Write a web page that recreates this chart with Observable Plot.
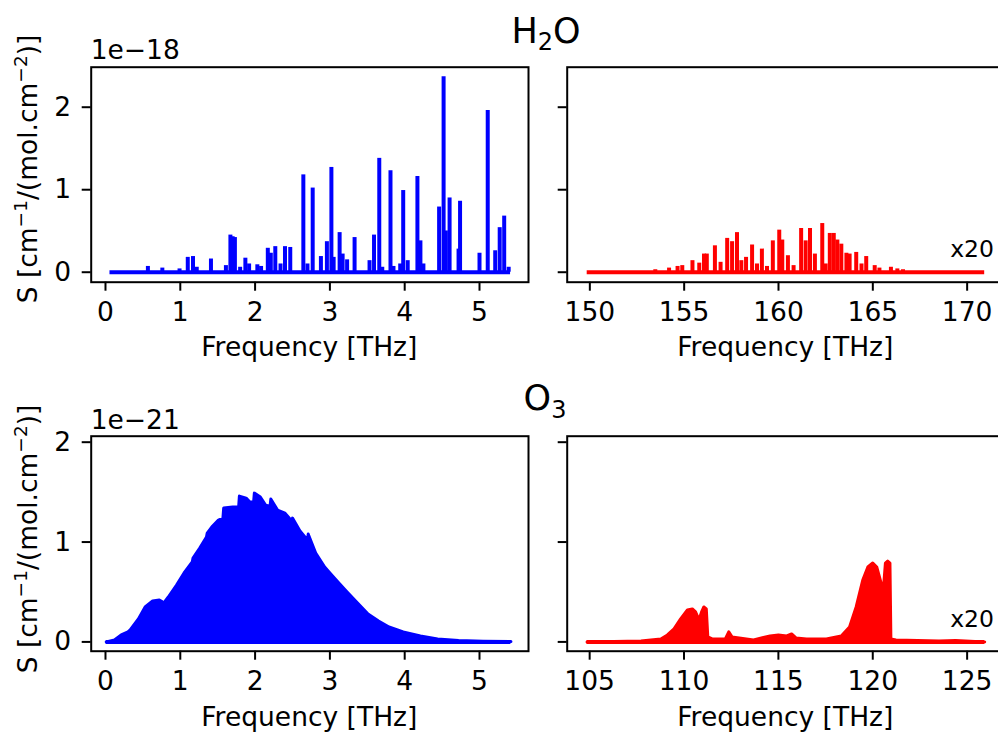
<!DOCTYPE html>
<html>
<head>
<meta charset="utf-8">
<script src="https://cdn.jsdelivr.net/npm/d3@7"></script>
<script src="https://cdn.jsdelivr.net/npm/@observablehq/plot@0.6"></script>
<style>
  html, body { margin: 0; padding: 0; background: #fff; overflow: hidden; }
  #fig { position: relative; width: 998px; height: 733px; overflow: hidden; background: #fff; font-family: "DejaVu Sans", sans-serif; }
  #fig svg { position: absolute; }
</style>
</head>
<body>
<div id="fig"></div>
<script>
// ---------------- DATA ----------------
// H2O, 0–5.5 THz (units of 1e-18)
const h2oLowFreq = [0.567,0.76,0.99,1.10,1.17,1.22,1.41,1.61,1.67,1.70,1.73,1.80,1.87,1.92,2.03,2.08,2.17,2.21,2.27,2.34,2.40,2.47,2.645,2.70,2.77,2.88,2.96,3.02,3.05,3.13,3.17,3.23,3.33,3.53,3.59,3.66,3.70,3.81,3.85,3.94,3.98,4.04,4.17,4.21,4.25,4.46,4.52,4.55,4.60,4.72,4.74,5.00,5.11,5.21,5.27,5.33,5.39];
const h2oLowS    = [0.07,0.05,0.04,0.18,0.19,0.06,0.16,0.08,0.45,0.43,0.42,0.06,0.17,0.10,0.09,0.07,0.29,0.23,0.31,0.10,0.31,0.30,1.18,0.10,1.02,0.19,0.37,1.27,0.18,0.48,0.22,0.15,0.42,0.14,0.45,1.38,0.06,1.23,0.07,0.10,0.99,0.14,1.16,0.38,0.10,0.79,2.37,0.50,0.90,0.28,0.86,0.23,1.96,0.26,0.54,0.68,0.06];
const h2oLowRange = [0.06, 5.415];

// H2O, 150–171 THz (x20, units of 1e-18)
const h2oHighFreq = [153.47,154.2,154.65,154.9,155.44,155.8,156.05,156.2,156.63,156.93,157.28,157.54,157.8,158.03,158.28,158.6,158.86,159.12,159.39,159.7,160.04,160.2,160.5,160.8,161.2,161.44,161.67,161.93,162.32,162.5,162.72,162.93,163.12,163.33,163.6,163.77,164.12,164.4,164.65,165.1,165.35,165.96,166.3,166.6];
const h2oHighS    = [0.03,0.05,0.07,0.08,0.14,0.11,0.22,0.22,0.32,0.12,0.41,0.37,0.48,0.14,0.18,0.33,0.10,0.28,0.07,0.38,0.51,0.39,0.20,0.08,0.53,0.38,0.53,0.22,0.59,0.10,0.47,0.47,0.39,0.34,0.23,0.22,0.24,0.10,0.19,0.08,0.05,0.06,0.04,0.03];
const h2oHighRange = [149.86, 170.93];

// O3, 0–5.5 THz envelope (units of 1e-21)
const o3LowFreq = [0.01,0.12,0.21,0.30,0.33,0.44,0.53,0.63,0.72,0.79,0.80,0.84,0.95,1.05,1.16,1.17,1.26,1.35,1.36,1.42,1.51,1.57,1.58,1.70,1.78,1.79,1.88,1.93,1.98,1.99,2.07,2.14,2.20,2.21,2.30,2.40,2.49,2.50,2.60,2.70,2.71,2.81,2.93,3.00,3.12,3.23,3.37,3.51,3.65,3.79,3.98,4.21,4.44,4.72,5.05,5.42];
const o3LowS    = [0.00,0.02,0.07,0.10,0.12,0.23,0.35,0.41,0.42,0.39,0.41,0.45,0.57,0.69,0.80,0.84,0.94,1.05,1.09,1.15,1.22,1.24,1.34,1.35,1.35,1.46,1.44,1.40,1.40,1.49,1.45,1.37,1.36,1.43,1.32,1.29,1.21,1.24,1.11,1.02,1.08,0.89,0.75,0.69,0.59,0.50,0.39,0.28,0.21,0.15,0.10,0.06,0.03,0.013,0.007,0.003];

// O3, 105–126 THz envelope (x20, units of 1e-21)
const o3HighFreq = [104.86,107.72,108.77,109.12,109.47,109.82,110.18,110.44,110.61,110.79,110.93,111.05,111.18,111.26,111.49,112.19,112.37,112.54,113.68,114.56,115.0,115.44,115.7,115.93,116.49,117.54,118.33,118.77,119.12,119.47,119.74,120.0,120.21,120.44,120.56,120.67,120.79,120.91,120.96,121.23,123.51,124.39,125.93];
const o3HighS    = [0.0,0.01,0.03,0.07,0.13,0.23,0.32,0.33,0.30,0.22,0.30,0.35,0.33,0.05,0.03,0.03,0.10,0.05,0.02,0.06,0.07,0.06,0.08,0.04,0.03,0.03,0.06,0.15,0.35,0.62,0.75,0.79,0.75,0.59,0.52,0.79,0.81,0.79,0.03,0.02,0.01,0.015,0.0];

// Tick labels
const xTicksLow = [0, 1, 2, 3, 4, 5];
const xTicksH2OHigh = [150, 155, 160, 165, 170];
const xTicksO3High = [105, 110, 115, 120, 125];
const yTicks = [0, 1, 2];

// ---------------- LAYOUT ----------------
const fig = document.getElementById("fig");
const FONT = "DejaVu Sans";
const FS = 26.5;
const style = {fontFamily: FONT, fontSize: FS + "px", color: "black", background: "transparent", overflow: "visible"};

function toRows(xs, ys) { return xs.map((x, i) => ({x, y: ys[i]})); }

function panel({left, top, width, height, mL, mR, mT, mB, xDomain, yDomain, xTicks, yLabels, marks}) {
  const svg = Plot.plot({
    width, height,
    marginLeft: mL, marginRight: mR, marginTop: mT, marginBottom: mB,
    style,
    x: {domain: xDomain},
    y: {domain: yDomain},
    marks: [
      ...marks,
      Plot.frame({stroke: "black", strokeWidth: 2}),
      Plot.axisX({ticks: xTicks, tickSize: 9, tickPadding: 10.5, strokeWidth: 2, label: null, tickFormat: d => String(d)}),
      Plot.axisY({ticks: yTicks, tickSize: 9, tickPadding: 11, strokeWidth: 2, label: null,
                  tickFormat: yLabels ? (d => String(d)) : (() => "")})
    ]
  });
  svg.style.left = left + "px";
  svg.style.top = top + "px";
  fig.append(svg);
}

const PW = 437.3, PH = 215;
const topY = 66.7, botY = 435.7;
const leftX = 90.7, rightX = 566.7;
const SW = 4;

// Top-left: H2O low frequency
panel({
  left: 0, top: 0, width: 540, height: 370,
  mL: leftX, mR: 540 - leftX - PW, mT: topY, mB: 370 - topY - PH,
  xDomain: [-0.191, 5.655], yDomain: [-0.121, 2.485], xTicks: xTicksLow, yLabels: true,
  marks: [
    Plot.ruleY([0], {x1: h2oLowRange[0], x2: h2oLowRange[1], stroke: "blue", strokeWidth: SW}),
    Plot.ruleX(toRows(h2oLowFreq, h2oLowS), {x: "x", y1: 0, y2: "y", stroke: "blue", strokeWidth: SW})
  ]
});

// Top-right: H2O high frequency (x20)
panel({
  left: 540, top: 0, width: 480, height: 370,
  mL: rightX - 540, mR: 480 - (rightX - 540) - PW, mT: topY, mB: 370 - topY - PH,
  xDomain: [148.8, 171.98], yDomain: [-0.121, 2.485], xTicks: xTicksH2OHigh, yLabels: false,
  marks: [
    Plot.ruleY([0], {x1: h2oHighRange[0], x2: h2oHighRange[1], stroke: "red", strokeWidth: SW}),
    Plot.ruleX(toRows(h2oHighFreq, h2oHighS), {x: "x", y1: 0, y2: "y", stroke: "red", strokeWidth: SW})
  ]
});

// Bottom-left: O3 low frequency
panel({
  left: 0, top: 370, width: 540, height: 363,
  mL: leftX, mR: 540 - leftX - PW, mT: botY - 370, mB: 363 - (botY - 370) - PH,
  xDomain: [-0.191, 5.655], yDomain: [-0.093, 2.06], xTicks: xTicksLow, yLabels: true,
  marks: [
    Plot.areaY(toRows(o3LowFreq, o3LowS), {x: "x", y: "y", fill: "blue"}),
    Plot.lineY(toRows(o3LowFreq, o3LowS), {x: "x", y: "y", stroke: "blue", strokeWidth: 3}),
    Plot.ruleY([0], {x1: o3LowFreq[0], x2: o3LowFreq[o3LowFreq.length - 1], stroke: "blue", strokeWidth: SW})
  ]
});

// Bottom-right: O3 high frequency (x20)
panel({
  left: 540, top: 370, width: 480, height: 363,
  mL: rightX - 540, mR: 480 - (rightX - 540) - PW, mT: botY - 370, mB: 363 - (botY - 370) - PH,
  xDomain: [103.81, 126.98], yDomain: [-0.093, 2.06], xTicks: xTicksO3High, yLabels: false,
  marks: [
    Plot.areaY(toRows(o3HighFreq, o3HighS), {x: "x", y: "y", fill: "red"}),
    Plot.lineY(toRows(o3HighFreq, o3HighS), {x: "x", y: "y", stroke: "red", strokeWidth: 3}),
    Plot.ruleY([0], {x1: o3HighFreq[0], x2: o3HighFreq[o3HighFreq.length - 1], stroke: "red", strokeWidth: SW})
  ]
});

// ---------------- TEXT OVERLAY ----------------
const ns = "http://www.w3.org/2000/svg";
const ov = document.createElementNS(ns, "svg");
ov.setAttribute("width", 998);
ov.setAttribute("height", 733);
ov.style.left = "0px"; ov.style.top = "0px";
ov.setAttribute("font-family", FONT);
const ylab = `S [cm<tspan font-size="18.5" dy="-10">−1</tspan><tspan dy="10">/(mol.cm</tspan><tspan font-size="18.5" dy="-10">−2</tspan><tspan dy="10">)]</tspan>`;
ov.innerHTML = `
  <text x="546" y="43" text-anchor="middle" font-size="35">H<tspan font-size="24" dy="7">2</tspan><tspan dy="-7">O</tspan></text>
  <text x="545" y="410" text-anchor="middle" font-size="35">O<tspan font-size="24" dy="8">3</tspan></text>
  <text x="90.7" y="59" font-size="${FS}">1e−18</text>
  <text x="90.7" y="429" font-size="${FS}">1e−21</text>
  <text transform="translate(37,169) rotate(-90)" text-anchor="middle" font-size="${FS}">${ylab}</text>
  <text transform="translate(37,539) rotate(-90)" text-anchor="middle" font-size="${FS}">${ylab}</text>
  <text x="309.3" y="356" text-anchor="middle" font-size="${FS}">Frequency [THz]</text>
  <text x="785.3" y="356" text-anchor="middle" font-size="${FS}">Frequency [THz]</text>
  <text x="309.3" y="726" text-anchor="middle" font-size="${FS}">Frequency [THz]</text>
  <text x="785.3" y="726" text-anchor="middle" font-size="${FS}">Frequency [THz]</text>
  <text x="994" y="256.7" text-anchor="end" font-size="23.5">x20</text>
  <text x="994" y="626.7" text-anchor="end" font-size="23.5">x20</text>
`;
fig.append(ov);
</script>
</body>
</html>
